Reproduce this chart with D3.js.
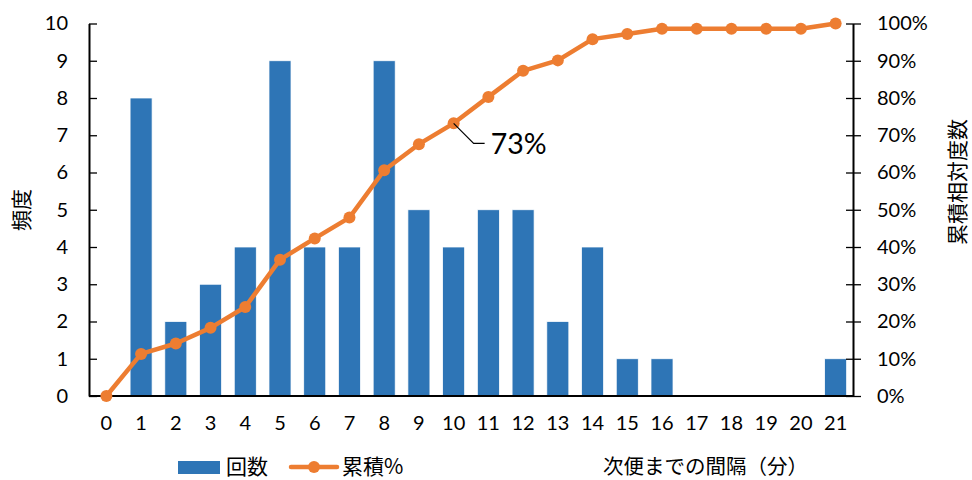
<!DOCTYPE html>
<html>
<head>
<meta charset="utf-8">
<script src="https://cdn.jsdelivr.net/npm/d3@7"></script>
<style>
  html, body { margin: 0; padding: 0; background: #fff; }
  svg { display: block; }
  text { fill: #000; }
</style>
</head>
<body>
<svg id="chart" width="972" height="480"></svg>
<script>
// Waiting time until next departure (minutes) and how often it occurred
const minutes = [0, 1, 2, 3, 4, 5, 6, 7, 8, 9, 10, 11, 12, 13, 14, 15, 16, 17, 18, 19, 20, 21];
const counts = [0, 8, 2, 3, 4, 9, 4, 4, 9, 5, 4, 5, 5, 2, 4, 1, 1, 0, 0, 0, 0, 1];
// Cumulative relative frequency (%)
const cumulative = [0, 11.3, 14.1, 18.3, 23.9, 36.6, 42.3, 47.9, 60.6, 67.6, 73.2, 80.3, 87.3, 90.1, 95.8, 97.2, 98.6, 98.6, 98.6, 98.6, 98.6, 100];
const countTicks = [0, 1, 2, 3, 4, 5, 6, 7, 8, 9, 10];
const percentTicks = [0, 10, 20, 30, 40, 50, 60, 70, 80, 90, 100];
const calloutIndex = 10;

const BLUE = "#2E75B6";
const ORANGE = "#ED7D31";
const NUM_FONT = "Lato, 'Noto Sans CJK JP', sans-serif";
const JP_FONT = "'Noto Sans CJK JP', sans-serif";

const svg = d3.select("#chart");
const plotLeft = 89, plotRight = 853, plotTop = 23.5, plotBottom = 396;

const x = d3.scaleBand().domain(minutes).range([plotLeft, plotRight]).paddingInner(0.366).paddingOuter(0.183);
const yCount = d3.scaleLinear().domain([0, 10]).range([plotBottom, plotTop]);
const yPct = d3.scaleLinear().domain([0, 100]).range([plotBottom, plotTop]);
const cx = d => x(d) + x.bandwidth() / 2;

// Bars
svg.append("g").selectAll("rect")
  .data(minutes)
  .join("rect")
  .attr("x", d => x(d))
  .attr("width", x.bandwidth())
  .attr("y", (d, i) => yCount(counts[i]))
  .attr("height", (d, i) => plotBottom - yCount(counts[i]))
  .attr("fill", BLUE)
  .attr("stroke", "#fff")
  .attr("stroke-width", 0.75);

// Axes
const styleAxis = (g, fontFamily) => {
  g.select(".domain").attr("stroke", "#000").attr("stroke-width", 2);
  g.selectAll(".tick line").attr("stroke", "#000").attr("stroke-width", 1.3);
  g.selectAll(".tick text").attr("font-family", fontFamily).attr("font-size", 20).attr("fill", "#000");
};

const leftAxis = svg.append("g").attr("transform", `translate(${plotLeft},0)`)
  .call(d3.axisLeft(yCount).tickValues(countTicks).tickSizeInner(7).tickSizeOuter(0).tickPadding(14));
leftAxis.selectAll(".tick line").attr("x2", 8);
styleAxis(leftAxis, NUM_FONT);

const rightAxis = svg.append("g").attr("transform", `translate(${plotRight},0)`)
  .call(d3.axisRight(yPct).tickValues(percentTicks).tickFormat(d => d + "%").tickSizeInner(8).tickSizeOuter(0).tickPadding(16));
rightAxis.selectAll(".tick line").attr("x1", -7);
styleAxis(rightAxis, NUM_FONT);

const bottomAxis = svg.append("g").attr("transform", `translate(0,${plotBottom})`)
  .call(d3.axisBottom(x).tickValues(minutes).tickSize(0).tickPadding(20));
styleAxis(bottomAxis, NUM_FONT);
bottomAxis.select(".domain").attr("d", `M${plotLeft},0H${plotRight}`);

// Cumulative line with markers
const line = d3.line().x((d, i) => cx(minutes[i])).y(d => yPct(d));
svg.append("path")
  .datum(cumulative)
  .attr("d", line)
  .attr("fill", "none")
  .attr("stroke", ORANGE)
  .attr("stroke-width", 4.5)
  .attr("stroke-linejoin", "round");
svg.append("g").selectAll("circle")
  .data(cumulative)
  .join("circle")
  .attr("cx", (d, i) => cx(minutes[i]))
  .attr("cy", d => yPct(d))
  .attr("r", 6)
  .attr("fill", ORANGE);

// Callout for the 10-minute cumulative value
const px = cx(minutes[calloutIndex]), py = yPct(cumulative[calloutIndex]);
svg.append("path")
  .attr("d", `M${px},${py}L${px + 20},${py + 20}H${px + 31}`)
  .attr("fill", "none").attr("stroke", "#000").attr("stroke-width", 1.2);
svg.append("text")
  .attr("x", px + 37).attr("y", py + 20)
  .attr("dy", "0.36em")
  .attr("font-family", NUM_FONT).attr("font-size", 28.5)
  .text(Math.round(cumulative[calloutIndex]) + "%");

// Axis titles
svg.append("text")
  .attr("transform", "translate(22,210) rotate(-90)")
  .attr("text-anchor", "middle").attr("dy", "0.35em")
  .attr("font-family", JP_FONT).attr("font-size", 21)
  .text("頻度");
svg.append("text")
  .attr("transform", "translate(958,182) rotate(-90)")
  .attr("text-anchor", "middle").attr("dy", "0.35em")
  .attr("font-family", JP_FONT).attr("font-size", 21)
  .text("累積相対度数");
svg.append("text")
  .attr("x", 603).attr("y", 467).attr("dy", "0.35em")
  .attr("font-family", JP_FONT).attr("font-size", 20.5)
  .text("次便までの間隔（分）");

// Legend
const legend = svg.append("g");
legend.append("rect").attr("x", 178).attr("y", 461).attr("width", 42).attr("height", 13).attr("fill", BLUE);
legend.append("text").attr("x", 226).attr("y", 467).attr("dy", "0.35em")
  .attr("font-family", JP_FONT).attr("font-size", 21).text("回数");
legend.append("line").attr("x1", 291).attr("x2", 337).attr("y1", 467).attr("y2", 467)
  .attr("stroke", ORANGE).attr("stroke-width", 4.5).attr("stroke-linecap", "round");
legend.append("circle").attr("cx", 314).attr("cy", 467).attr("r", 6).attr("fill", ORANGE);
legend.append("text").attr("x", 342).attr("y", 467).attr("dy", "0.35em")
  .attr("font-family", JP_FONT).attr("font-size", 21).text("累積%");
</script>
</body>
</html>
